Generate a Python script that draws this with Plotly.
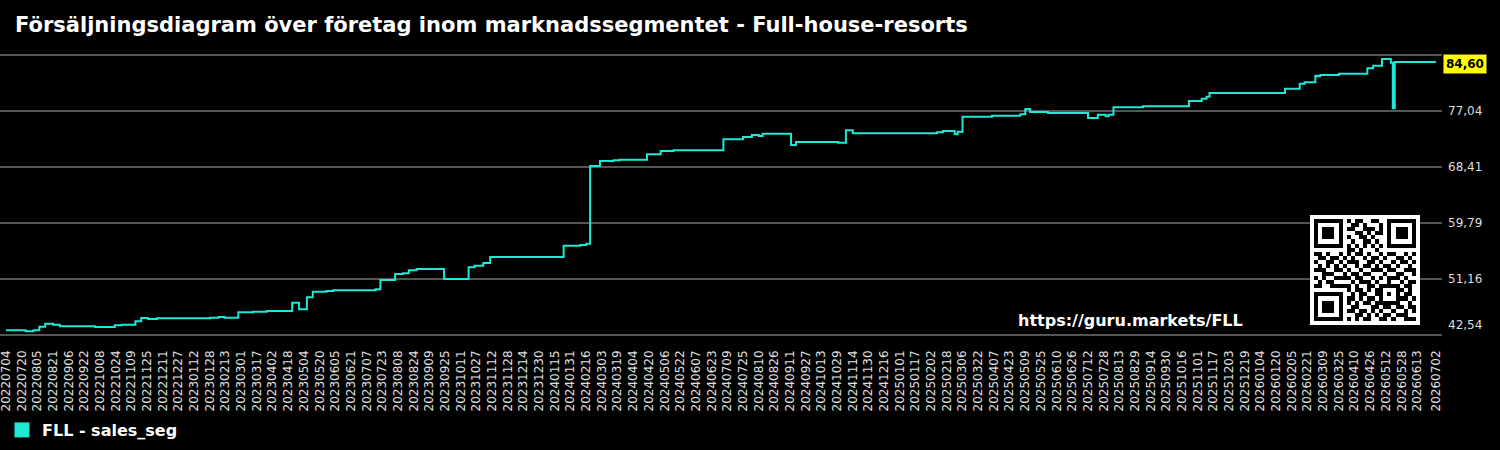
import pandas as pd
import plotly.graph_objects as go

# ---------------- data ----------------
change_dates = [
    "20220704", "20220724", "20220801", "20220807", "20220813", "20220821", "20220828",
    "20221003", "20221023", "20221030", "20221113", "20221119", "20221126", "20221205",
    "20230128", "20230206", "20230212", "20230226", "20230313", "20230327", "20230422",
    "20230429", "20230507", "20230513", "20230527", "20230603", "20230716", "20230721",
    "20230805", "20230813", "20230819", "20230827", "20230924", "20231019", "20231025",
    "20231103", "20231110", "20240124", "20240210", "20240216", "20240220", "20240301",
    "20240315", "20240321", "20240418", "20240502", "20240515", "20240705", "20240725",
    "20240803", "20240810", "20240814", "20240912", "20240917", "20241030", "20241107",
    "20241114", "20250208", "20250214", "20250226", "20250301", "20250306", "20250405",
    "20250504", "20250509", "20250514", "20250601", "20250712", "20250722", "20250730",
    "20250802", "20250807", "20250906", "20251023", "20251105", "20251110", "20251113",
    "20260129", "20260213", "20260218", "20260301", "20260303", "20260306", "20260325",
    "20260423", "20260429", "20260508", "20260517", "20260519", "20260521", "20260702",
]
sales_seg = [
    43.26, 43.11, 43.26, 43.82, 44.28, 44.13, 43.88,
    43.77, 44.03, 44.13, 44.65, 45.16, 45.00, 45.11,
    45.21, 45.31, 45.21, 46.04, 46.13, 46.24, 47.51,
    46.50, 48.35, 49.21, 49.32, 49.42, 49.58, 51.01,
    51.94, 52.04, 52.50, 52.70, 51.16, 52.96, 53.21,
    53.63, 54.55, 56.29, 56.40, 56.60, 68.57, 69.34,
    69.44, 69.54, 70.37, 70.88, 70.98, 72.68, 73.04,
    73.34, 73.19, 73.55, 71.80, 72.27, 72.16, 74.07,
    73.60, 73.76, 73.96, 73.45, 73.85, 76.16, 76.31,
    76.53, 77.35, 76.89, 76.73, 75.96, 76.47, 76.22,
    76.47, 77.61, 77.76, 78.58, 78.94, 79.25, 79.81,
    80.48, 81.25, 81.46, 82.48, 82.38, 82.58, 82.79,
    83.61, 84.02, 85.05, 84.48, 77.46, 84.60, 84.60,
]
last_value_label = "84,60"

x_tick_labels = [
    "20220704", "20220720", "20220805", "20220821", "20220906", "20220922", "20221008",
    "20221024", "20221109", "20221125", "20221211", "20221227", "20230112", "20230128",
    "20230213", "20230301", "20230317", "20230402", "20230418", "20230504", "20230520",
    "20230605", "20230621", "20230707", "20230723", "20230808", "20230824", "20230909",
    "20230925", "20231011", "20231027", "20231112", "20231128", "20231214", "20231230",
    "20240115", "20240131", "20240216", "20240303", "20240319", "20240404", "20240420",
    "20240506", "20240522", "20240607", "20240623", "20240709", "20240725", "20240810",
    "20240826", "20240911", "20240927", "20241013", "20241029", "20241114", "20241130",
    "20241216", "20250101", "20250117", "20250202", "20250218", "20250306", "20250322",
    "20250407", "20250423", "20250509", "20250525", "20250610", "20250626", "20250712",
    "20250728", "20250813", "20250829", "20250914", "20250930", "20251016", "20251101",
    "20251117", "20251203", "20251219", "20260104", "20260120", "20260205", "20260221",
    "20260309", "20260325", "20260410", "20260426", "20260512", "20260528", "20260613",
    "20260702",
]
y_tick_values = [42.54, 51.165, 59.79, 68.415, 77.04, 85.665]
y_tick_labels = ["42,54", "51,16", "59,79", "68,41", "77,04", ""]

qr_rows = [
    "1111111010110011001111111",
    "1000001001101000101000001",
    "1011101011001110101011101",
    "1011101000110101101011101",
    "1011101010011010001011101",
    "1000001001001101001000001",
    "1111111010101010101111111",
    "0000000011010001000000000",
    "1101001010110100101100101",
    "0110110101001011010011010",
    "1001101011100110100101101",
    "0101010100101101011010010",
    "1110011010010011101100111",
    "0011100101101100010011001",
    "1010011110110010101110100",
    "0101100001011101001001011",
    "1100111110100110111110110",
    "0000000010110101100011010",
    "1111111001011001101010110",
    "1000001011010110100011101",
    "1011101010101101111110010",
    "1011101001100011011011011",
    "1011101011011010100100101",
    "1000001000110101011011100",
    "1111111010101100110100111",
]

# ---------------- figure ----------------
W, H = 1500, 450
LINE_COLOR = "#1FE8D6"
FONT = "DejaVu Sans"

x_dates = pd.to_datetime(change_dates, format="%Y%m%d")
tick_dates = pd.to_datetime(x_tick_labels, format="%Y%m%d")

fig = go.Figure()
fig.add_trace(go.Scatter(
    x=x_dates, y=sales_seg, mode="lines", line=dict(color=LINE_COLOR, width=2, shape="hv"),
    showlegend=False, hoverinfo="skip",
))
fig.add_trace(go.Scatter(
    x=[None], y=[None], mode="markers", name="FLL - sales_seg",
    marker=dict(symbol="square", size=15, color=LINE_COLOR),
))

# QR code as heatmap on its own axes
qr = [[0] * (len(qr_rows[0]) + 2)]
for r in qr_rows:
    qr.append([0] + [int(c) for c in r] + [0])
qr.append([0] * (len(qr_rows[0]) + 2))
fig.add_trace(go.Heatmap(
    z=qr, xaxis="x2", yaxis="y2", colorscale=[[0, "white"], [1, "black"]],
    zmin=0, zmax=1, showscale=False, hoverinfo="skip", xgap=0, ygap=0,
))

ml, mr, mt, mb = 0, 58, 53, 113
pw, ph = W - ml - mr, H - mt - mb
dy = (y_tick_values[1] - y_tick_values[0]) / 56.0


def px_x(px):
    return (px - ml) / pw


def px_y(py):
    return (H - mb - py) / ph


annotations = []
for v, t in zip(y_tick_values, y_tick_labels):
    if not t:
        continue
    annotations.append(dict(
        x=1, xref="paper", y=v, yref="y", text=t, showarrow=False,
        xanchor="left", yanchor="middle", xshift=4,
        yshift=10 if v == y_tick_values[0] else 0,
        font=dict(family=FONT, size=12, color="#dddddd"),
    ))
annotations.append(dict(
    x=1, xref="paper", y=sales_seg[-1], yref="y", text="<b>%s</b>" % last_value_label,
    showarrow=False, xanchor="left", yanchor="middle", xshift=1, yshift=-2,
    bgcolor="#FFFF00", borderpad=2, font=dict(family=FONT, size=12, color="black"),
))
annotations.append(dict(
    x=px_x(1130), xref="paper", y=px_y(320), yref="paper", text="<b>https://guru.markets/FLL</b>",
    showarrow=False, xanchor="center", yanchor="middle",
    font=dict(family=FONT, size=16, color="white"),
))

fig.update_layout(
    width=W, height=H,
    margin=dict(l=ml, r=mr, t=mt, b=mb),
    paper_bgcolor="black", plot_bgcolor="black",
    title=dict(
        text="<b>Försäljningsdiagram över företag inom marknadssegmentet - Full-house-resorts</b>",
        x=15 / W, xanchor="left", y=1 - 25 / H, yanchor="middle",
        font=dict(family=FONT, size=21, color="white"),
    ),
    xaxis=dict(
        type="date",
        range=[pd.Timestamp("2022-06-27 21:00"), pd.Timestamp("2026-07-08 05:00")],
        tickvals=tick_dates, ticktext=x_tick_labels, tickangle=-90,
        tickfont=dict(family=FONT, size=12, color="#e0e0e0"),
        ticklabelstandoff=10, ticklabeloverflow="allow",
        showgrid=False, zeroline=False, showline=False, ticks="",
    ),
    yaxis=dict(
        range=[y_tick_values[0] - 2 * dy, y_tick_values[-1] + 2 * dy],
        tickvals=y_tick_values, showticklabels=False,
        showgrid=True, gridcolor="#555555", gridwidth=2, zeroline=False, showline=False, ticks="",
    ),
    xaxis2=dict(domain=[px_x(1310), px_x(1420)], anchor="y2", visible=False,
                range=[-0.5, len(qr[0]) - 0.5]),
    yaxis2=dict(domain=[px_y(325), px_y(215)], anchor="x2", visible=False,
                range=[len(qr) - 0.5, -0.5]),
    legend=dict(
        orientation="h", x=px_x(2), xanchor="left", y=px_y(430), yanchor="middle",
        font=dict(family=FONT, size=16, color="white", weight="bold"),
        bgcolor="rgba(0,0,0,0)",
    ),
    annotations=annotations,
    showlegend=True,
)

fig.write_html("out.html")
